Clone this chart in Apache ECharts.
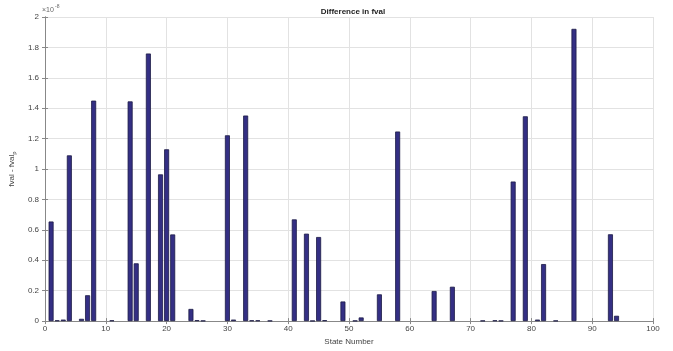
<!DOCTYPE html>
<html>
<head>
<meta charset="UTF-8">
<title>Difference in fval</title>
<script src="https://cdn.jsdelivr.net/npm/echarts@6/dist/echarts.min.js"></script>
<style>
  html, body { margin: 0; padding: 0; background: #fff; }
  #main { width: 673px; height: 351px; }
</style>
</head>
<body>
<div id="main"></div>
<script>
// state numbers and difference values (in units of 1e-8)
const states = [1, 2, 3, 4, 6, 7, 8, 11, 14, 15, 17, 19, 20, 21, 24, 25, 26, 30, 31, 33, 34, 35, 37,
  41, 43, 44, 45, 46, 49, 51, 52, 55, 58, 64, 67, 72, 74, 75, 77, 79, 81, 82, 84, 87, 93, 94];
const diffs = [0.655, 0.005, 0.01, 1.09, 0.015, 0.17, 1.45, 0.005, 1.445, 0.38, 1.76, 0.965, 1.13, 0.57,
  0.08, 0.006, 0.003, 1.222, 0.01, 1.352, 0.005, 0.005, 0.003,
  0.669, 0.575, 0.002, 0.553, 0.006, 0.129, 0.003, 0.024, 0.176, 1.247, 0.198, 0.226,
  0.003, 0.005, 0.003, 0.918, 1.347, 0.01, 0.375, 0.003, 1.922, 0.571, 0.035];
const yTicks = [0, 0.2, 0.4, 0.6, 0.8, 1, 1.2, 1.4, 1.6, 1.8, 2];

const chart = echarts.init(document.getElementById('main'));
const tickStyle = { color: '#444', fontSize: 8, fontFamily: 'Liberation Sans' };

chart.setOption({
  animation: false,
  title: {
    text: 'Difference in fval',
    left: 348, top: 3, textAlign: 'center',
    textStyle: { fontSize: 8, fontWeight: 'bold', color: '#222', fontFamily: 'Liberation Sans' }
  },
  graphic: [{
    type: 'text', left: 42, top: 7,
    style: { text: '×10', fontSize: 7, fill: '#666', fontFamily: 'Liberation Sans' }
  }, {
    type: 'text', left: 55, top: 4,
    style: { text: '-8', fontSize: 5, fill: '#666', fontFamily: 'Liberation Sans' }
  }],
  grid: { left: 42, right: 20, top: 17, bottom: 28 },
  xAxis: [{
    type: 'value', min: 0, max: 100, interval: 10,
    name: 'State Number', nameLocation: 'middle', nameGap: 12,
    nameTextStyle: { color: '#444', fontSize: 8, fontFamily: 'Liberation Sans' },
    axisLine: { lineStyle: { color: '#888' } },
    axisTick: { inside: true, length: 3, lineStyle: { color: '#888' } },
    axisLabel: Object.assign({ margin: 4 }, tickStyle),
    splitLine: { lineStyle: { color: '#e2e2e2' } }
  }, {
    type: 'value', min: 0, max: 100, interval: 10, position: 'top',
    axisLine: { show: true, lineStyle: { color: '#888' } },
    axisTick: { show: true, inside: true, length: 3, lineStyle: { color: '#888' } },
    axisLabel: { show: false }, splitLine: { show: false }
  }],
  yAxis: [{
    type: 'value', min: 0, max: 2, interval: 0.2,
    name: '{a|fval - fval}{b|p}', nameLocation: 'middle', nameGap: 19,
    nameTextStyle: {
      rich: {
        a: { color: '#444', fontSize: 8, fontFamily: 'Liberation Sans' },
        b: { color: '#444', fontSize: 6, fontFamily: 'Liberation Sans', padding: [4, 0, 0, 0] }
      }
    },
    axisLine: { show: true, lineStyle: { color: '#888' } },
    axisTick: { show: true, inside: true, length: 3, lineStyle: { color: '#888' } },
    axisLabel: Object.assign({ margin: 6, formatter: v => String(+v.toFixed(1)) }, tickStyle),
    splitLine: { lineStyle: { color: '#e2e2e2' } }
  }, {
    type: 'value', min: 0, max: 2, interval: 0.2, position: 'right',
    axisLine: { show: true, lineStyle: { color: '#888' } },
    axisTick: { show: true, inside: true, length: 3, lineStyle: { color: '#888' } },
    axisLabel: { show: false }, splitLine: { show: false }
  }],
  series: [{
    type: 'bar',
    xAxisIndex: 0, yAxisIndex: 0,
    barWidth: 5,
    data: states.map((s, i) => [s, diffs[i]]),
    itemStyle: { color: '#342f84', borderColor: '#1c1a45', borderWidth: 0.8 }
  }]
});
</script>
</body>
</html>
